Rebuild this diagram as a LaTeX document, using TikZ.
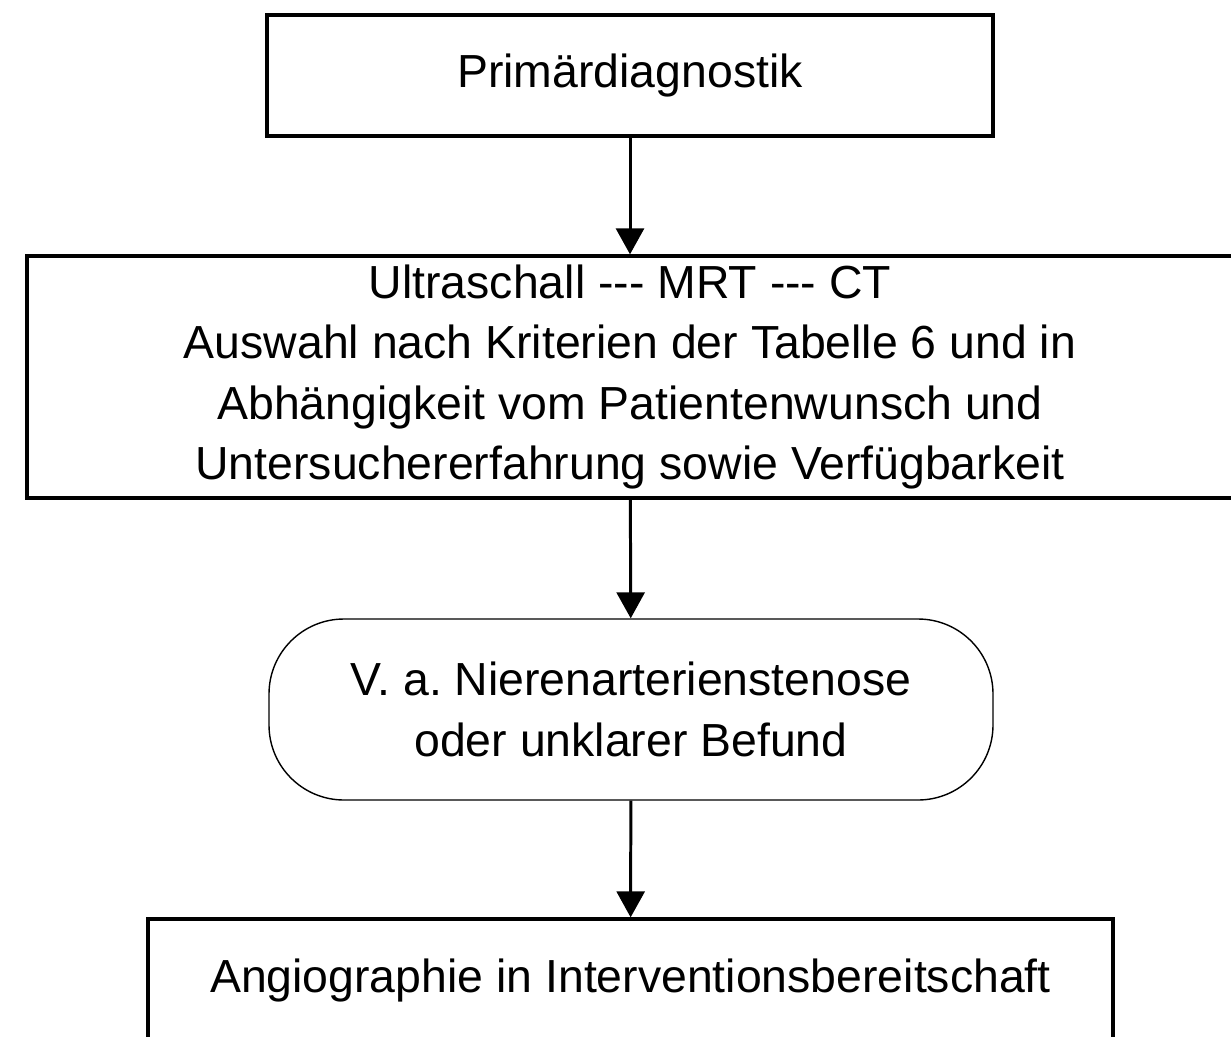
\documentclass[tikz,border=0pt]{standalone}
\usepackage{fontspec}
\setmainfont{Liberation Sans}
\usepackage{tikz}
\usetikzlibrary{arrows.meta}

\begin{document}
\begin{tikzpicture}[
	box/.style={draw, line width=1.9pt, align=center, inner sep=0pt,
		font=\fontsize{26.4}{34.5}\selectfont\frenchspacing},
	flow/.style={line width=1.7pt, -{Triangle[length=0.52cm, width=0.56cm]}}]
	\useasboundingbox (0,0) rectangle (24.62,-20.72);
	\node (prim) at (12.6,-1.51) [box, minimum width=14.52cm, minimum height=2.42cm] {Prim\"ardiagnostik};
	\node (bild) at (12.6,-7.54) [box, minimum width=24.12cm, minimum height=4.84cm]
		{Ultraschall -{}-{}- MRT -{}-{}- CT\\Auswahl nach Kriterien der Tabelle 6 und in\\Abh\"angigkeit vom Patientenwunsch und\\Untersuchererfahrung sowie Verf\"ugbarkeit};
	\node (verd) at (12.62,-14.19) [box, line width=0.8pt, rounded corners=1.5cm, minimum width=14.48cm, minimum height=3.62cm]
		{V. a. Nierenarterienstenose\\oder unklarer Befund};
	\node (angio) at (12.61,-19.6) [box, minimum width=19.3cm, minimum height=2.44cm] {Angiographie in Interventionsbereitschaft};
	\draw[flow] (prim) to (bild);
	\draw[flow] (bild) to (verd);
	\draw[flow] (verd) to (angio);
\end{tikzpicture}
\end{document}
